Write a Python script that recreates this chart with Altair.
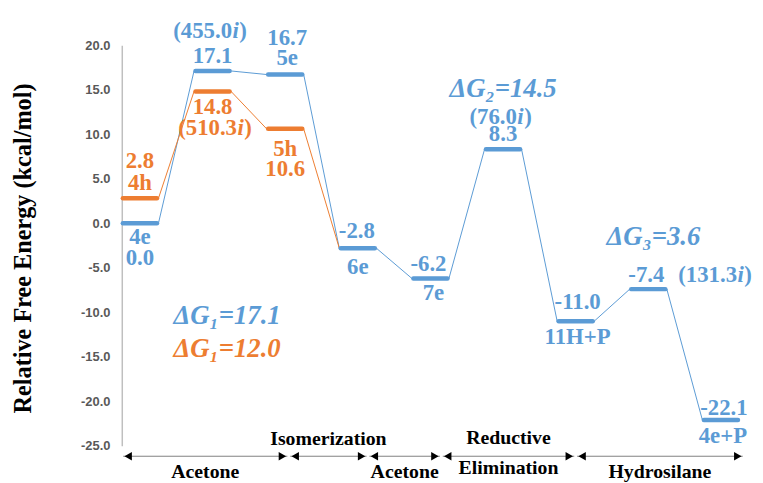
import altair as alt
import pandas as pd

BLUE = "#5B9BD5"
ORANGE = "#ED7D31"
SERIF = "Liberation Serif"

# ---------------- data ----------------
blue_pos = [0, 1, 2, 3, 4, 5, 6, 7, 8]
blue_val = [0.0, 17.1, 16.7, -2.8, -6.2, 8.3, -11.0, -7.4, -22.1]
orange_pos = [0, 1, 2]
orange_val = [2.8, 14.8, 10.6]
orange_join = (3, -2.8)   # orange path ends in 6e

# level labels: text, series, level index, vertical px offset, horizontal px offset
lab_text = ["17.1", "16.7", "5e", "4e", "0.0", "-2.8", "6e", "-6.2", "7e",
            "8.3", "-11.0", "11H+P", "-7.4", "-22.1", "4e+P",
            "2.8", "4h", "14.8", "5h", "10.6"]
lab_series = ["b"] * 15 + ["o"] * 5
lab_idx = [1, 2, 2, 0, 0, 3, 3, 4, 4, 5, 6, 6, 7, 8, 8,
           0, 0, 1, 2, 2]
lab_dy = [-15, -37, -17, 14, 35, -17, 19, -15, 15, -15, -19, 16, -14, -12, 16,
          -38, -15, 16, 20, 41]
lab_dx = [0, 2, 2, 0, 0, -1, 0, -2, 3, 0, 2, 2, -2, 3, 2,
          0, 0, 0, 0, 0]

# imaginary frequencies (number part; the "i" is set in italics)
freq_num = ["455.0", "76.0", "131.3", "510.3"]
freq_series = ["b", "b", "b", "o"]
freq_idx = [1, 5, 7, 1]
freq_dy = [-40, -33, -14, 37]
freq_dx = [-3, -3, 67, 2]

dg_text = ["ΔG₁=17.1", "ΔG₁=12.0", "ΔG₂=14.5", "ΔG₃=3.6"]
dg_x = [1.2, 1.2, 5.0, 7.07]
dg_y = [-10.44, -14.1, 15.1, -1.56]
dg_color = [BLUE, ORANGE, BLUE, BLUE]

seg_bounds = [-0.25, 2.05, 3.14, 4.15, 6.0, 8.32]
seg_text = ["Acetone", "Isomerization", "Acetone", "Reductive", "Elimination", "Hydrosilane"]
seg_of_text = [0, 1, 2, 3, 3, 4]
seg_side = ["below", "above", "below", "above", "below", "below"]

y_ticks = [-25, -20, -15, -10, -5, 0, 5, 10, 15, 20]

# ---------------- geometry ----------------
W, H = 630, 405
XD = [-0.25, 8.333]
YD = [-25, 20]
ppx = W / (XD[1] - XD[0])
ppy = H / (YD[1] - YD[0])
HW = 0.235      # half bar width (plus round caps)
HC = 0.255      # connector attach
FS = 23         # label font size

xs = alt.Scale(domain=XD, nice=False, zero=False)
ys = alt.Scale(domain=YD, nice=False, zero=False)


def level(s, i):
    if s == "b":
        return blue_pos[i], blue_val[i], BLUE
    return orange_pos[i], orange_val[i], ORANGE


bars = pd.DataFrame(
    [{"x": p - HW, "x2": p + HW, "y": v, "c": BLUE} for p, v in zip(blue_pos, blue_val)]
    + [{"x": p - HW, "x2": p + HW, "y": v, "c": ORANGE} for p, v in zip(orange_pos, orange_val)]
)

conn = []
for i in range(len(blue_pos) - 1):
    conn.append({"x": blue_pos[i] + HC, "x2": blue_pos[i + 1] - HC,
                 "y": blue_val[i], "y2": blue_val[i + 1], "c": BLUE})
opath = list(zip(orange_pos, orange_val)) + [orange_join]
for i in range(len(opath) - 1):
    conn.append({"x": opath[i][0] + HC, "x2": opath[i + 1][0] - HC,
                 "y": opath[i][1], "y2": opath[i + 1][1], "c": ORANGE})
conn = pd.DataFrame(conn)

labels = []
for t, s, i, dy, dx in zip(lab_text, lab_series, lab_idx, lab_dy, lab_dx):
    p, v, c = level(s, i)
    labels.append({"t": t, "x": p + dx / ppx, "y": v - dy / ppy, "c": c})
labels = pd.DataFrame(labels)

# split "(455.0i)" into "(455.0" + italic "i" + ")"
EM_DIGIT, EM_DOT, EM_PAR, EM_I = 0.5, 0.25, 0.333, 0.278
freq = []
for n, s, i, dy, dx in zip(freq_num, freq_series, freq_idx, freq_dy, freq_dx):
    p, v, c = level(s, i)
    left_w = EM_PAR + sum(EM_DOT if ch == "." else EM_DIGIT for ch in n)
    total = left_w + EM_I + EM_PAR
    cx = p * ppx + dx
    anchor_px = cx - total * FS / 2 + left_w * FS
    freq.append({"t": "(" + n, "x": anchor_px / ppx, "y": v - dy / ppy, "c": c})
freq = pd.DataFrame(freq)

dg = pd.DataFrame({"t": dg_text, "x": dg_x, "y": dg_y, "c": dg_color})

ARROW_Y = YD[0] - 10.5 / ppy
gap = 0.02
seg_lines = pd.DataFrame([{"x": seg_bounds[k] + gap, "x2": seg_bounds[k + 1] - gap, "y": ARROW_Y}
                          for k in range(len(seg_bounds) - 1)])
head_off = 5 / ppx
heads_l = pd.DataFrame([{"x": seg_bounds[k] + gap + head_off, "y": ARROW_Y}
                        for k in range(len(seg_bounds) - 1)])
heads_r = pd.DataFrame([{"x": seg_bounds[k + 1] - gap - head_off, "y": ARROW_Y}
                        for k in range(len(seg_bounds) - 1)])
seg_lab = []
for t, k, side in zip(seg_text, seg_of_text, seg_side):
    mid = (seg_bounds[k] + seg_bounds[k + 1]) / 2
    off = 16 if side == "below" else -17
    if t == "Elimination":
        off = 12
    if t == "Reductive":
        off = -18
    seg_lab.append({"t": t, "x": mid, "y": ARROW_Y - off / ppy})
seg_lab = pd.DataFrame(seg_lab)

# ---------------- layers ----------------
base_axis = alt.Axis(
    values=y_ticks,
    labelExpr="(datum.value < 0 ? '-' : '') + format(abs(datum.value), '.1f')",
    labelFont="Liberation Sans", labelFontSize=13, labelColor="#595959", labelFontWeight="bold",
    labelPadding=12, ticks=False, grid=False, domainColor="#BFBFBF", domainWidth=1.5,
    title="Relative Free Energy (kcal/mol)", titleFont=SERIF, titleFontSize=24.5,
    titleFontWeight="bold", titleColor="#000000", titleBaseline="middle",
    titleX=-99, titleY=205,
)

conn_layer = alt.Chart(conn).mark_rule(strokeWidth=1).encode(
    x=alt.X("x:Q", scale=xs, axis=None),
    x2="x2:Q",
    y=alt.Y("y:Q", scale=ys, axis=base_axis),
    y2="y2:Q",
    color=alt.Color("c:N", scale=None),
)

bar_layer = alt.Chart(bars).mark_rule(strokeWidth=4.5, strokeCap="round").encode(
    x=alt.X("x:Q", scale=xs), x2="x2:Q",
    y=alt.Y("y:Q", scale=ys),
    color=alt.Color("c:N", scale=None),
)

def txt(df, **kw):
    return alt.Chart(df).mark_text(font=SERIF, fontSize=FS, fontWeight="bold",
                                   baseline="middle", **kw).encode(
        x=alt.X("x:Q", scale=xs), y=alt.Y("y:Q", scale=ys),
        text="t:N", color=alt.Color("c:N", scale=None),
    )

lab_layer = txt(labels, align="center")
freq_l = txt(freq, align="right")
freq_i = alt.Chart(freq).mark_text(font=SERIF, fontSize=FS, fontWeight="bold", fontStyle="italic",
                                   baseline="middle", align="left", dx=0.5).encode(
    x=alt.X("x:Q", scale=xs), y=alt.Y("y:Q", scale=ys),
    text=alt.value("i"), color=alt.Color("c:N", scale=None),
)
freq_r = alt.Chart(freq).mark_text(font=SERIF, fontSize=FS, fontWeight="bold",
                                   baseline="middle", align="left", dx=EM_I * FS + 1).encode(
    x=alt.X("x:Q", scale=xs), y=alt.Y("y:Q", scale=ys),
    text=alt.value(")"), color=alt.Color("c:N", scale=None),
)

dg_layer = alt.Chart(dg).mark_text(
    font=SERIF, fontSize=27, fontWeight="bold", fontStyle="italic", baseline="middle", align="center"
).encode(
    x=alt.X("x:Q", scale=xs), y=alt.Y("y:Q", scale=ys),
    text="t:N", color=alt.Color("c:N", scale=None),
)

seg_layer = alt.Chart(seg_lines).mark_rule(strokeWidth=1, color="#7F7F7F").encode(
    x=alt.X("x:Q", scale=xs), x2="x2:Q", y=alt.Y("y:Q", scale=ys),
)
hl_layer = alt.Chart(heads_l).mark_point(shape="triangle-left", filled=True, size=75,
                                         color="#000000", opacity=1).encode(
    x=alt.X("x:Q", scale=xs), y=alt.Y("y:Q", scale=ys),
)
hr_layer = alt.Chart(heads_r).mark_point(shape="triangle-right", filled=True, size=75,
                                         color="#000000", opacity=1).encode(
    x=alt.X("x:Q", scale=xs), y=alt.Y("y:Q", scale=ys),
)
seg_text_layer = alt.Chart(seg_lab).mark_text(
    font=SERIF, fontSize=20, fontWeight="bold", baseline="middle", align="center", color="#000000"
).encode(
    x=alt.X("x:Q", scale=xs), y=alt.Y("y:Q", scale=ys), text="t:N",
)

chart = alt.layer(
    conn_layer, bar_layer, lab_layer, freq_l, freq_i, freq_r, dg_layer,
    seg_layer, hl_layer, hr_layer, seg_text_layer
).properties(
    width=W, height=H,
    padding={"left": 115, "top": 35, "right": 10, "bottom": 35},
    autosize=alt.AutoSizeParams(type="none"),
    background="#FFFFFF",
).configure_view(stroke=None)

chart.save("out.html", embed_options={"renderer": "svg", "actions": False})
